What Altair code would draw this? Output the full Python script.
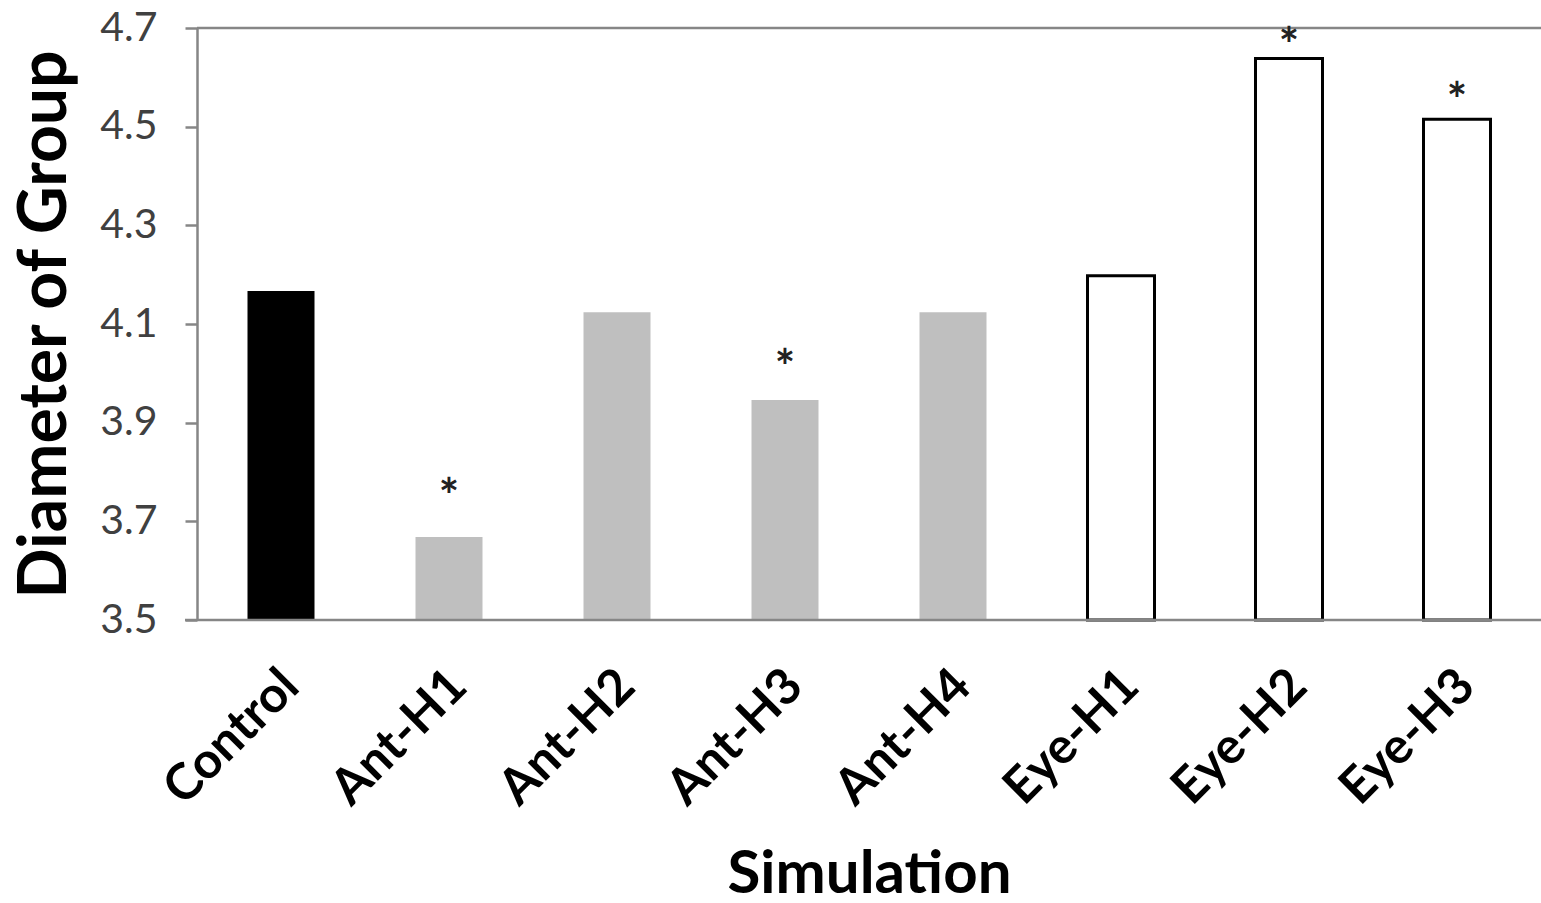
import altair as alt
import pandas as pd

categories = ["Control", "Ant-H1", "Ant-H2", "Ant-H3", "Ant-H4", "Eye-H1", "Eye-H2", "Eye-H3"]
groups = ["Control", "Ant", "Ant", "Ant", "Ant", "Eye", "Eye", "Eye"]
diameters = [4.167, 3.668, 4.124, 3.946, 4.124, 4.198, 4.638, 4.515]

star_categories = ["Ant-H1", "Ant-H3", "Eye-H2", "Eye-H3"]
star_positions = [3.766, 4.027, 4.680, 4.568]

y_ticks = [3.5, 3.7, 3.9, 4.1, 4.3, 4.5, 4.7]

df = pd.DataFrame({"Simulation": categories, "Group": groups, "Diameter": diameters, "base": 3.5})
stars = pd.DataFrame({"Simulation": star_categories, "pos": star_positions, "label": "*"})

W, H = 1344, 592
FONT = "Lato"

x_enc = alt.X(
    "Simulation:N",
    sort=categories,
    scale=alt.Scale(paddingInner=0, paddingOuter=0),
    axis=alt.Axis(
        title="Simulation",
        labelAngle=-45,
        labelAlign="right",
        labelBaseline="middle",
        labelFont=FONT,
        labelFontWeight="bold",
        labelFontSize=50,
        labelColor="black",
        labelPadding=58,
        labelOffset=10,
        ticks=False,
        domain=False,
        titleFont=FONT,
        titleFontWeight="bold",
        titleFontSize=60,
        titleColor="black",
        titleX=W / 2,
        titleY=254,
        titleAlign="center",
        titleBaseline="middle",
        titleAnchor="middle",
    ),
)

y_scale = alt.Scale(domain=[3.5, 4.7], nice=False, zero=False)

y_enc = alt.Y(
    "Diameter:Q",
    scale=y_scale,
    axis=alt.Axis(
        title="Diameter of Group",
        values=y_ticks,
        format=".1f",
        grid=False,
        labelFont=FONT,
        labelFontSize=41,
        labelColor="#404040",
        labelPadding=28,
        tickSize=12,
        tickColor="#868686",
        tickWidth=2.5,
        domainColor="#868686",
        domainWidth=2.5,
        titleFont=FONT,
        titleFontWeight="bold",
        titleFontSize=66,
        titleColor="black",
        titleAngle=-90,
        titleX=-152,
        titleY=H / 2,
        titleAlign="center",
        titleBaseline="middle",
    ),
)

fill_bars = alt.Chart(df).transform_filter(alt.datum.Group != "Eye").mark_bar(size=67).encode(
    x=x_enc,
    y=y_enc,
    y2=alt.Y2("base:Q"),
    fill=alt.Fill(
        "Group:N",
        scale=alt.Scale(domain=["Control", "Ant"], range=["#000000", "#BFBFBF"]),
        legend=None,
    ),
)

outline_bars = alt.Chart(df).transform_filter(alt.datum.Group == "Eye").mark_bar(
    size=67, fill="#FFFFFF", stroke="#000000", strokeWidth=3
).encode(
    x=alt.X("Simulation:N", sort=categories),
    y=alt.Y("Diameter:Q", scale=y_scale),
    y2=alt.Y2("base:Q"),
)

star_marks = alt.Chart(stars).mark_text(
    font=FONT, fontSize=48, fontWeight="bold", color="#222222", baseline="middle", dy=10
).encode(
    x=alt.X("Simulation:N", sort=categories),
    y=alt.Y("pos:Q", scale=y_scale),
    text="label:N",
)

top_line = alt.Chart(pd.DataFrame({"v": [4.7]})).mark_rule(color="#868686", strokeWidth=2.5).encode(
    y=alt.Y("v:Q", scale=y_scale),
    x=alt.value(0),
    x2=alt.value(W),
)

bottom_line = alt.Chart(pd.DataFrame({"v": [3.5]})).mark_rule(color="#868686", strokeWidth=2.5).encode(
    y=alt.Y("v:Q", scale=y_scale),
    x=alt.value(-12),
    x2=alt.value(W),
)

chart = alt.layer(fill_bars, outline_bars, top_line, bottom_line, star_marks).properties(
    width=W,
    height=H,
    padding={"left": 197, "top": 28, "right": 0, "bottom": 283},
    autosize=alt.AutoSizeParams(type="none"),
).configure_view(stroke=None).configure(background="white")

chart.save("out.html", embed_options={"renderer": "svg", "actions": False})
